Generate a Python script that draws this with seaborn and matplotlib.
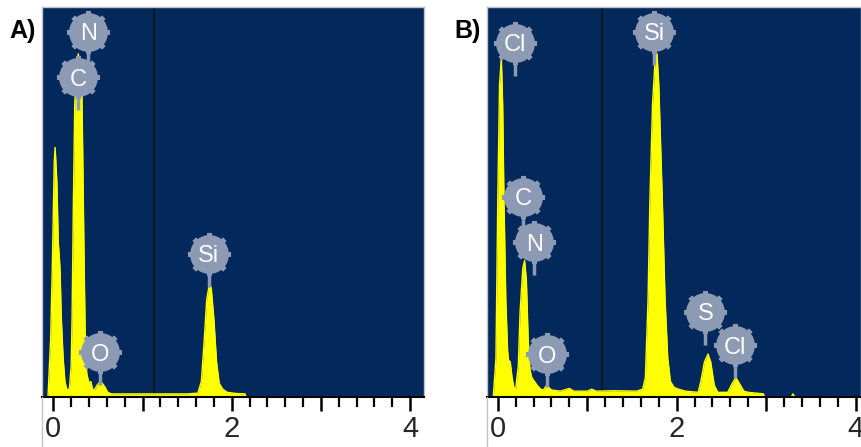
import numpy as np
import pandas as pd
import seaborn as sns
import matplotlib.pyplot as plt
from matplotlib.lines import Line2D
from matplotlib.ticker import MultipleLocator

# ---- spectrum A (energy keV, counts in % of full scale) ----
energy_a = [-0.06, -0.05, -0.03, -0.01, 0.01, 0.02, 0.04, 0.055, 0.075, 0.09, 0.11, 0.13, 0.15,
            0.18, 0.20, 0.21, 0.225, 0.24, 0.26, 0.28, 0.30, 0.32, 0.33, 0.345, 0.36,
            0.375, 0.40, 0.42, 0.44, 0.46, 0.49, 0.52, 0.55, 0.58, 0.61, 0.65, 1.0, 1.5,
            1.62, 1.66, 1.69, 1.72, 1.75, 1.77, 1.80, 1.83, 1.86, 1.90, 1.95, 2.05, 2.15, 2.16]
counts_a = [0, 5, 15, 35, 60, 64, 55, 40, 33, 20, 10, 4, 2,
            2, 8, 20, 50, 75, 85, 88, 85, 78, 62, 35, 12,
            6, 3.5, 4, 2, 1.8, 3, 3.8, 3.5, 2.5, 1.2, 0.8, 0.8, 0.8,
            1, 4, 14, 25, 29, 28, 20, 9, 3.5, 2, 1.2, 0.9, 0.8, 0]

# ---- spectrum B ----
energy_b = [-0.05, -0.02, 0.0, 0.02, 0.04, 0.055, 0.07, 0.09, 0.11, 0.12, 0.14, 0.16,
            0.18, 0.20, 0.23, 0.25, 0.28, 0.30, 0.32, 0.34, 0.36, 0.38, 0.41, 0.44,
            0.48, 0.51, 0.54, 0.57, 0.60, 0.70, 0.80, 0.85, 1.00, 1.05, 1.10, 1.30,
            1.55, 1.62, 1.65, 1.68, 1.70, 1.73, 1.76, 1.78, 1.80, 1.82, 1.84, 1.87,
            1.90, 1.93, 1.97, 2.02, 2.10, 2.24, 2.27, 2.31, 2.35, 2.38, 2.42, 2.46,
            2.57, 2.61, 2.66, 2.70, 2.75, 2.80, 2.97, 2.98, 3.28, 3.30, 3.32]
counts_b = [0, 10, 50, 80, 87, 75, 50, 25, 12, 9.5, 9, 5,
            2.5, 2, 8, 22, 33, 35, 30, 15, 7, 5, 4, 3,
            2, 1.8, 2.8, 2.5, 1.8, 1.5, 2.2, 1.5, 1.5, 2.0, 1.5, 1.6,
            1.5, 2, 5, 25, 50, 75, 87, 88, 80, 65, 50, 25,
            10, 4, 2.5, 2, 1.5, 1.2, 4, 9, 11, 9, 3, 1.2,
            1.2, 3, 5, 3.5, 1.5, 1.2, 0.8, 0, 0, 0.8, 0]

# ---- element markers ----
labels_a = ["N", "C", "O", "Si"]
label_x_a = [0.39, 0.28, 0.52, 1.74]
label_y_a = [93.6, 82.0, 11.5, 36.7]

labels_b = ["Cl", "Si", "C", "N", "O", "S", "Cl"]
label_x_b = [0.19, 1.75, 0.28, 0.41, 0.55, 2.32, 2.65]
label_y_b = [90.8, 93.6, 51.3, 39.7, 11.0, 21.8, 13.3]

cursor_a = 1.13
cursor_b = 1.16

NAVY = "#03285c"
YELLOW = "#ffff00"
BADGE = "#8d9ab4"

sns.set_style("white")
plt.rcParams['font.family'] = ['Liberation Sans', 'DejaVu Sans']

fig = plt.figure(figsize=(8.61, 4.47), dpi=100)
W, H = 861, 447
ax_a = fig.add_axes([42 / W, 50 / H, 382 / W, 390 / H])
ax_b = fig.add_axes([487 / W, 50 / H, 374 / W, 390 / H])


def draw_panel(ax, energy, counts, xlim, cursor, names, xs, ys, tag, tag_x, left_px):
    df = pd.DataFrame({"energy": energy, "counts": counts})
    ax.set_facecolor(NAVY)
    ax.fill_between(df["energy"], df["counts"], color=YELLOW, lw=0, zorder=2)
    sns.lineplot(data=df, x="energy", y="counts", ax=ax, color=YELLOW, lw=1,
                 zorder=2, estimator=None, sort=False)
    ax.axvline(cursor, color="#111111", lw=1.2, zorder=1.5)

    # element badges
    for name, x, y in zip(names, xs, ys):
        ax.plot([x, x], [y, y - 8.5], color=BADGE, lw=2.5, zorder=3,
                solid_capstyle="butt")
        ax.plot(x, y, marker=(8, 2, 0), ms=31, mew=3.5, color=BADGE, zorder=4)
        ax.plot(x, y, marker="o", ms=28, mew=0, color=BADGE, zorder=5)
        ax.text(x, y, name, ha="center", va="center_baseline", color="white",
                fontsize=17, zorder=6)

    ax.set_xlim(*xlim)
    ax.set_ylim(0, 100)
    ax.set_xlabel("")
    ax.set_ylabel("")
    ax.set_yticks([])
    ax.set_xticks([0, 1, 2, 3, 4])
    ax.set_xticklabels(["0", "", "2", "", "4"])
    ax.xaxis.set_minor_locator(MultipleLocator(0.2))
    ax.tick_params(axis="x", which="major", direction="out", length=10, width=1.8,
                   color="black", labelsize=21, pad=3, bottom=True)
    ax.tick_params(axis="x", which="minor", direction="out", length=7, width=1.6,
                   color="black", bottom=True)
    for side in ["top", "right", "left"]:
        ax.spines[side].set_color("#c4c4c4")
        ax.spines[side].set_linewidth(1)
    ax.spines["bottom"].set_color("black")
    ax.spines["bottom"].set_linewidth(1.5)

    # left border continues down past the tick labels
    fig.add_artist(Line2D([left_px / W, left_px / W], [0, 50 / H], color="#c4c4c4",
                          lw=1, transform=fig.transFigure))
    fig.text(tag_x / W, 1 - 38 / H, tag, fontsize=18, fontweight="bold",
             va="baseline", ha="left", color="black")


draw_panel(ax_a, energy_a, counts_a, (-0.127, 4.156), cursor_a,
           labels_a, label_x_a, label_y_a, "A)", 9, 42)
draw_panel(ax_b, energy_b, counts_b, (-0.12, 4.06), cursor_b,
           labels_b, label_x_b, label_y_b, "B)", 454, 487)

fig.savefig("out.png", dpi=100)
